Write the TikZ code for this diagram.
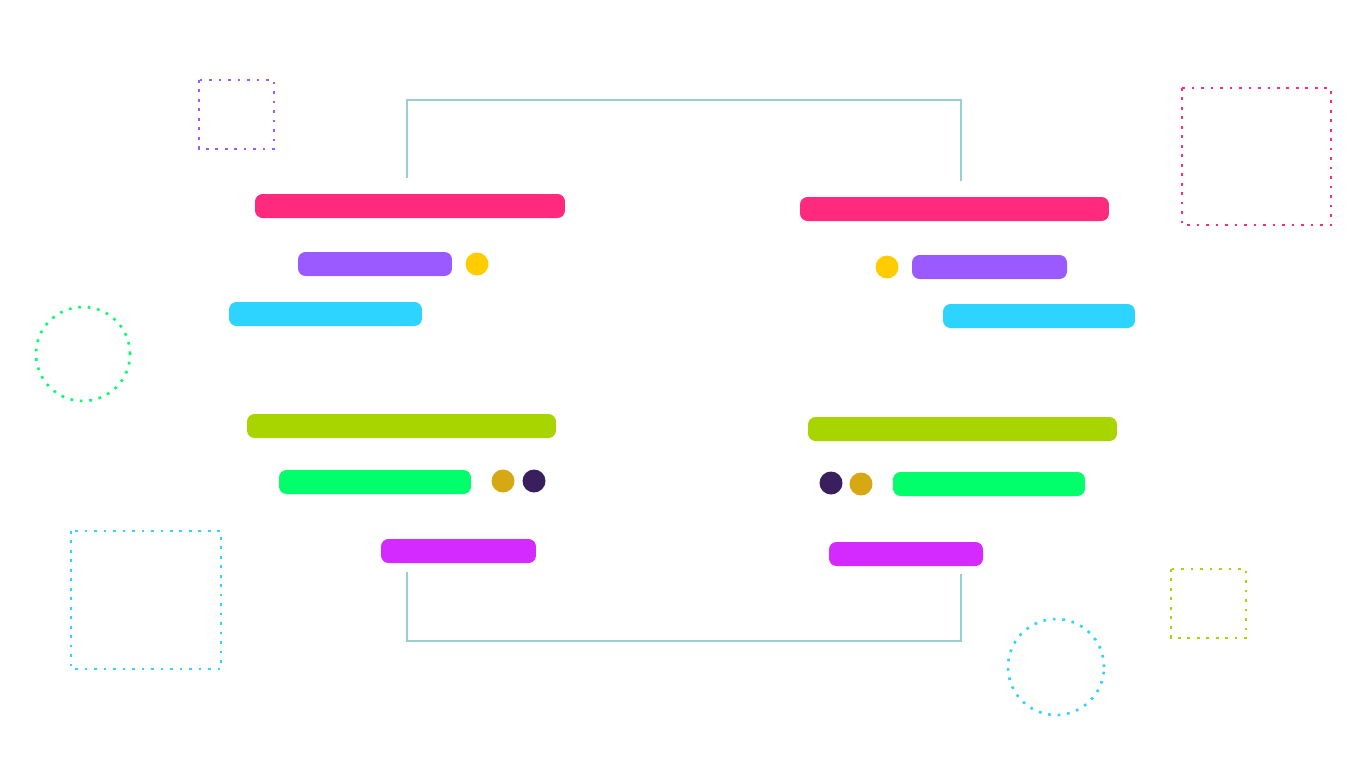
\documentclass[tikz,border=0pt]{standalone}
\usetikzlibrary{positioning}

\definecolor{barpink}{HTML}{FF2A7D}
\definecolor{barpurple}{HTML}{9B5AFF}
\definecolor{barcyan}{HTML}{2DD4FF}
\definecolor{barlime}{HTML}{A8D400}
\definecolor{bargreen}{HTML}{00FF6A}
\definecolor{barmagenta}{HTML}{D42AFF}
\definecolor{dotyellow}{HTML}{FFCC00}
\definecolor{dotgold}{HTML}{D6A814}
\definecolor{dotdark}{HTML}{3A1F5E}
\definecolor{linkteal}{HTML}{99CECE}

\tikzset{
  bar/.style={rectangle, rounded corners=0.15cm, inner sep=0pt, minimum height=0.48cm, fill=#1},
  blob/.style={circle, inner sep=0pt, minimum size=0.46cm, fill=#1},
  deco/.style={draw=#1, line width=1.5pt, dash pattern=on 1.5pt off 3.9pt},
  link/.style={draw=linkteal, line width=1.2pt}
}

\begin{document}
\begin{tikzpicture}[x=0.02cm, y=-0.02cm]
  \useasboundingbox (0,0) rectangle (1368,774);

  % decorations
  \draw[deco=barpurple] (199,80) rectangle (274,149);
  \draw[deco=barpink] (1182,88) rectangle (1331,225);
  \draw[deco=bargreen] (83,354) circle (0.94cm);
  \draw[deco=barcyan] (71,531) rectangle (221,669);
  \draw[deco=barlime] (1171,569) rectangle (1246,638);
  \draw[deco=barcyan] (1056,667) circle (0.96cm);

  % left column
  \node[bar=barpink, minimum width=6.2cm] (lpink) at (410,206) {};
  \node[bar=barpurple, minimum width=3.08cm] (lpurple) at (375,264) {};
  \node[blob=dotyellow] (lyellow) at (477,264) {};
  \node[bar=barcyan, minimum width=3.86cm] (lcyan) at (325.5,314) {};
  \node[bar=barlime, minimum width=6.18cm] (llime) at (401.5,426) {};
  \node[bar=bargreen, minimum width=3.84cm] (lgreen) at (375,482) {};
  \node[blob=dotgold] (lgold) at (503,481) {};
  \node[blob=dotdark] (ldark) at (534,481) {};
  \node[bar=barmagenta, minimum width=3.1cm] (lmagenta) at (458.5,551) {};

  % right column
  \node[bar=barpink, minimum width=6.18cm] (rpink) at (954.5,209) {};
  \node[blob=dotyellow] (ryellow) at (887,267) {};
  \node[bar=barpurple, minimum width=3.1cm] (rpurple) at (989.5,267) {};
  \node[bar=barcyan, minimum width=3.84cm] (rcyan) at (1039,316) {};
  \node[bar=barlime, minimum width=6.18cm] (rlime) at (962.5,429) {};
  \node[blob=dotdark] (rdark) at (831,483) {};
  \node[blob=dotgold] (rgold) at (861,484) {};
  \node[bar=bargreen, minimum width=3.84cm] (rgreen) at (989,484) {};
  \node[bar=barmagenta, minimum width=3.08cm] (rmagenta) at (906,554) {};

  % brackets
  \coordinate (ltop) at (407,178);
  \coordinate (rtop) at (961,181);
  \coordinate (lbot) at (407,572);
  \coordinate (rbot) at (961,574);
  \draw[link] (ltop) |- (684,100) -| (rtop);
  \draw[link] (lbot) |- (684,641) -| (rbot);
\end{tikzpicture}
\end{document}
